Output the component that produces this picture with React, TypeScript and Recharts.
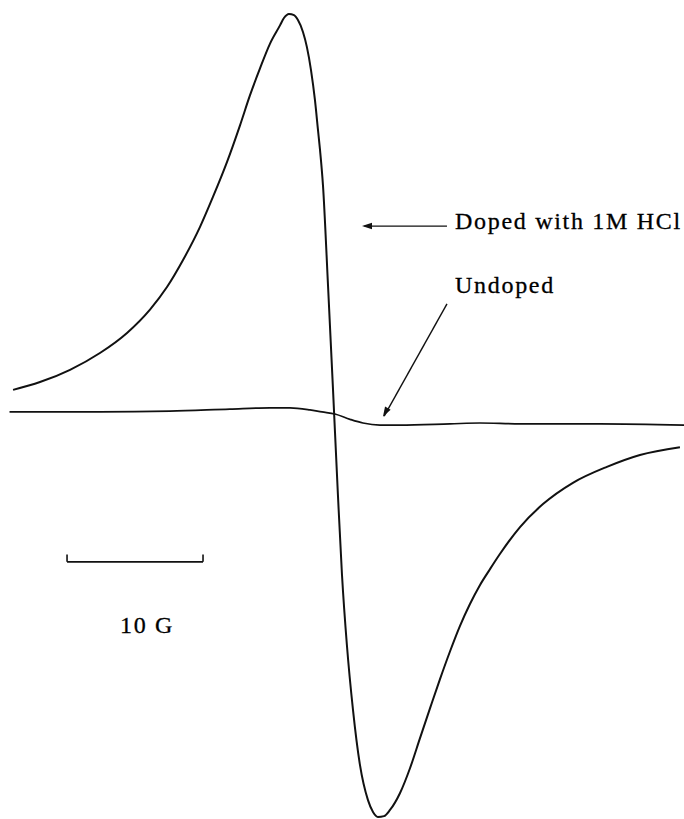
import React from 'react';
import { LineChart, Line, XAxis, YAxis, ReferenceLine, ReferenceDot } from 'recharts';

// Magnetic field (G, relative) and first-derivative EPR signal (arb. units)
const dopedField = [0.96, 2.94, 5.15, 7.35, 9.34, 11.03, 12.28, 13.46, 14.71, 15.66, 16.69, 17.65, 18.38, 19.12, 19.85, 20.59, 20.88, 21.25, 21.62, 21.91, 22.28, 22.57, 22.87, 23.16, 23.38, 23.53, 23.75, 24.12, 24.49, 24.85, 25.15, 25.51, 25.96, 26.47, 27.06, 27.43, 27.79, 28.24, 28.68, 29.41, 30.15, 30.88, 31.62, 32.35, 33.09, 33.82, 34.56, 35.29, 36.03, 36.76, 38.24, 39.93, 42.13, 44.63, 47.06, 50.0];
const dopedSignal = [4.8, 6.7, 9.7, 13.8, 18.7, 24.4, 29.9, 36.5, 44.6, 51.9, 60.4, 69.4, 76.7, 83.3, 89.3, 93.8, 95.6, 96.6, 96.3, 95.1, 92.2, 88.5, 82.9, 75.6, 68.4, 63.5, 54.8, 30.4, 4.8, -20.8, -40.4, -57.5, -73.4, -86.8, -95.4, -98.3, -99.5, -99.3, -97.8, -93.7, -87.6, -80.3, -73.0, -65.9, -59.1, -52.9, -47.5, -42.9, -39.0, -35.3, -28.7, -23.1, -17.9, -14.0, -11.1, -9.2];

const undopedField = [0.7, 7.35, 12.5, 16.91, 19.85, 21.32, 22.79, 23.68, 24.63, 25.74, 26.69, 27.94, 29.41, 33.09, 35.29, 38.24, 44.12, 50.3];
const undopedSignal = [-0.6, -0.6, -0.4, 0.1, 0.4, 0.4, -0.1, -0.6, -1.1, -2.4, -3.3, -3.8, -3.8, -3.5, -3.3, -3.5, -3.5, -3.8];

const labels = ['Doped with 1M HCl', 'Undoped', '10 G'];
const scaleBarStart = 4.93;
const scaleBarLength = 10; // G

const dopedData = dopedField.map((g, i) => ({ g, v: dopedSignal[i] }));
const undopedData = undopedField.map((g, i) => ({ g, v: undopedSignal[i] }));

const textStyle = {
  fontFamily: '"Liberation Serif", "Times New Roman", serif',
  fontSize: 24,
  letterSpacing: 1.7,
  fill: '#000',
  stroke: '#000',
  strokeWidth: 0.3,
};

const makeText = (t: string) => (p: any) => (
  <text x={p.cx} y={p.cy} style={textStyle as any} textAnchor="start">{t}</text>
);

const makeHead = (angle: number) => (p: any) => (
  <polygon
    points="0,0 -10,-3.2 -10,3.2"
    fill="#111"
    transform={`translate(${p.cx},${p.cy}) rotate(${angle})`}
  />
);

export default function App() {
  return (
    <div style={{ position: 'absolute', left: 0, top: 0, width: 684, height: 819, background: '#fff' }}>
      <LineChart width={684} height={819} margin={{ top: 0, right: 0, bottom: 0, left: 0 }}>
        <XAxis dataKey="g" type="number" domain={[0, 50.3]} hide allowDataOverflow />
        <YAxis dataKey="v" type="number" domain={[-100, 100]} hide allowDataOverflow />
        <Line data={dopedData} dataKey="v" type="monotone" stroke="#111" strokeWidth={2} dot={false} activeDot={false} isAnimationActive={false} />
        <Line data={undopedData} dataKey="v" type="monotone" stroke="#111" strokeWidth={1.7} dot={false} activeDot={false} strokeLinecap="butt" isAnimationActive={false} />

        {/* arrow to doped curve */}
        <ReferenceLine segment={[{ x: 26.8, y: 44.8 }, { x: 32.87, y: 44.8 }]} stroke="#111" strokeWidth={1.3} />
        <ReferenceDot x={26.62} y={44.8} r={0} shape={makeHead(180)} />
        {/* arrow to undoped curve */}
        <ReferenceLine segment={[{ x: 32.87, y: 25.8 }, { x: 28.25, y: -1.6 }]} stroke="#111" strokeWidth={1.4} />
        <ReferenceDot x={28.16} y={-1.8} r={0} shape={makeHead(119.5)} />

        {/* scale bar */}
        <ReferenceLine segment={[{ x: scaleBarStart, y: -37.2 }, { x: scaleBarStart + scaleBarLength, y: -37.2 }]} stroke="#111" strokeWidth={1.6} />
        <ReferenceLine segment={[{ x: scaleBarStart, y: -37.2 }, { x: scaleBarStart, y: -35.4 }]} stroke="#111" strokeWidth={1.6} />
        <ReferenceLine segment={[{ x: scaleBarStart + scaleBarLength, y: -37.2 }, { x: scaleBarStart + scaleBarLength, y: -35.4 }]} stroke="#111" strokeWidth={1.6} />

        <ReferenceDot x={33.46} y={44.1} r={0} shape={makeText(labels[0])} />
        <ReferenceDot x={33.46} y={28.4} r={0} shape={makeText(labels[1])} />
        <ReferenceDot x={8.82} y={-54.6} r={0} shape={makeText(labels[2])} />
      </LineChart>
    </div>
  );
}
